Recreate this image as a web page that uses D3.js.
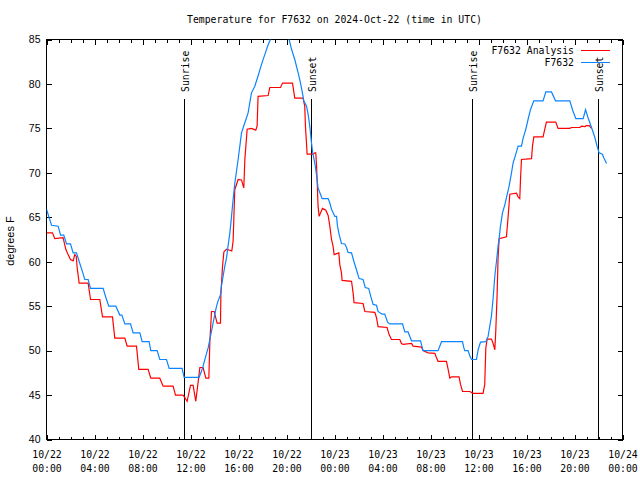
<!DOCTYPE html>
<html>
<head>
<meta charset="utf-8">
<script src="https://cdn.jsdelivr.net/npm/d3@7"></script>
<style>
html,body{margin:0;padding:0;background:#fff;}
svg{display:block;}
</style>
</head>
<body>
<svg id="chart" width="640" height="480"></svg>
<script>
// ---------------- DATA ----------------
const titleText = "Temperature for F7632 on 2024-Oct-22 (time in UTC)";
const yLabel = "degrees F";
const startUTC = Date.UTC(2024, 9, 22, 0, 0);   // 10/22 00:00 UTC
const endUTC = Date.UTC(2024, 9, 24, 0, 0);     // 10/24 00:00 UTC
const yTicks = [40, 45, 50, 55, 60, 65, 70, 75, 80, 85];
const seriesNames = ["F7632 Analysis", "F7632"];
const seriesColors = ["#ff0000", "#0a84ff"];

// F7632 observations: hours since 10/22 00:00 UTC, degrees F
const obsHours = [0.00,0.42,0.97,1.17,1.44,1.67,2.00,2.22,2.50,2.73,2.97,3.19,3.47,3.67,4.72,4.94,5.19,5.78,6.11,6.28,6.53,7.00,7.22,7.78,7.97,8.55,8.69,9.22,9.44,10.00,10.22,11.30,11.47,12.72,12.92,13.05,13.28,13.47,13.61,13.75,13.88,14.03,14.17,14.30,14.50,14.58,14.72,14.86,15.00,15.13,15.28,15.42,15.55,15.69,15.97,16.25,16.52,16.80,17.08,17.36,17.63,17.92,18.19,18.47,18.75,19.03,19.44,19.78,19.94,20.22,20.42,20.69,20.97,21.17,21.38,21.44,21.67,21.80,21.94,22.08,22.17,22.27,22.38,22.50,22.63,22.83,22.97,23.47,23.61,23.75,24.03,24.17,24.25,24.38,24.58,24.86,25.00,25.13,25.42,25.61,25.83,26.05,26.38,26.56,26.85,27.02,27.22,27.50,27.63,27.97,28.19,28.42,28.61,29.67,29.86,30.13,30.42,31.17,31.38,32.63,32.92,34.67,34.78,34.86,35.13,35.28,35.42,35.83,35.97,36.17,36.61,36.80,36.94,37.08,37.22,37.36,37.50,37.63,37.72,37.83,38.00,38.19,38.33,38.55,38.75,38.88,39.11,39.30,39.58,39.72,39.94,40.13,40.33,40.61,41.38,41.61,42.08,42.42,43.61,43.83,44.11,44.72,44.92,45.13,45.42,45.69,45.88,46.05,46.33,46.44,46.67];
const obsTemps = [65.9,64.1,64.0,63.0,63.0,62.0,62.0,61.0,61.0,60.0,59.0,58.0,58.0,57.0,57.0,56.0,55.0,55.0,54.0,54.0,53.0,53.0,52.0,52.0,51.0,51.0,50.0,50.0,49.0,49.0,48.0,48.0,47.0,47.0,47.7,48.25,49.4,50.3,51.25,52.2,53.1,54.1,55.0,55.6,56.3,57.25,58.4,59.5,60.4,61.75,63.25,65.1,67.0,68.8,71.5,74.5,75.6,76.75,79.0,79.75,80.9,82.2,83.3,84.4,85.3,86.3,87.5,87.0,86.3,85.0,83.9,82.75,81.25,80.1,78.6,78.1,77.5,76.6,75.25,73.4,72.4,71.7,70.9,69.8,68.3,67.6,67.1,67.1,66.6,65.9,65.1,65.1,64.0,63.1,62.05,62.0,61.6,61.05,61.0,60.05,59.1,58.1,58.0,57.1,57.0,56.1,55.2,55.1,54.4,54.1,54.1,53.2,53.0,53.0,52.1,52.1,51.1,51.1,50.0,50.0,51.0,51.0,50.3,50.0,50.0,49.4,49.0,49.0,50.1,50.95,51.0,51.6,52.75,53.9,55.9,58.4,60.05,61.75,62.6,64.0,65.5,66.4,67.2,68.5,70.0,71.1,72.1,73.0,73.0,73.9,74.9,76.0,77.1,78.1,78.1,79.1,79.1,78.1,78.1,77.1,76.1,76.1,77.1,76.2,75.1,74.0,73.0,72.25,72.1,71.7,71.05];

// F7632 Analysis: hours since 10/22 00:00 UTC, degrees F
const anaHours = [0.00,0.50,0.69,1.38,1.61,1.80,2.00,2.22,2.36,2.48,2.55,2.72,3.47,3.67,4.44,4.67,5.50,5.69,6.53,6.72,7.50,7.69,8.47,8.69,9.44,9.72,10.55,10.75,11.38,11.53,11.72,12.00,12.22,12.44,12.63,12.78,13.05,13.28,13.53,13.61,13.75,13.97,14.22,14.50,14.53,14.67,14.78,15.00,15.44,15.55,15.61,15.69,15.97,16.25,16.44,16.53,16.72,17.08,17.44,17.55,17.63,18.47,18.61,19.50,19.67,20.50,20.69,21.38,21.52,21.58,21.72,22.22,22.36,22.44,22.50,22.55,22.63,22.72,23.00,23.28,23.47,23.61,23.75,23.88,23.97,24.36,24.44,24.58,24.63,25.42,25.55,25.63,26.38,26.53,27.36,27.50,27.63,28.38,28.55,28.75,29.44,29.58,29.72,30.42,30.55,31.25,31.38,31.80,32.36,32.50,32.63,33.33,33.47,33.61,33.75,34.38,34.50,34.67,35.28,35.55,36.38,36.52,36.61,36.72,37.08,37.22,37.36,37.44,37.55,37.63,37.72,38.33,38.47,38.61,39.17,39.30,39.44,39.50,39.58,40.42,40.50,40.61,41.38,41.52,41.66,42.44,42.63,43.61,43.75,44.44,44.58,44.86,45.00,45.22,45.42];
const anaTemps = [63.25,63.25,62.6,62.7,61.4,60.8,60.25,60.1,60.8,60.6,59.4,57.6,57.6,55.75,55.75,53.8,53.8,51.4,51.4,50.5,50.5,47.9,47.9,46.9,46.9,46.0,46.0,45.0,45.0,44.7,44.3,46.1,46.1,44.3,46.4,48.1,48.1,46.9,46.9,50.9,54.4,54.4,53.1,53.1,56.3,59.5,61.1,61.4,61.2,62.3,64.75,68.1,69.25,69.2,68.3,71.5,74.9,75.0,74.8,75.25,78.6,78.7,79.6,79.6,80.1,80.1,78.4,78.4,77.5,75.25,72.1,72.1,72.25,72.25,70.9,69.25,66.25,65.1,66.0,65.8,65.2,64.0,62.5,61.75,60.8,61.0,59.7,58.75,57.9,57.8,56.5,55.4,55.3,54.4,54.3,53.7,52.7,52.6,51.8,51.25,51.25,50.8,50.7,50.8,50.5,50.4,50.0,49.75,49.7,49.2,48.8,48.8,47.9,46.9,47.05,47.05,46.2,45.4,45.4,45.2,45.2,46.2,50.3,51.3,51.3,50.8,50.1,52.2,56.3,60.4,62.6,62.8,65.1,67.6,67.7,67.3,67.1,69.25,71.5,71.6,73.0,74.05,74.05,74.9,75.7,75.7,75.0,75.0,75.1,75.1,75.25,75.2,75.3,75.3,75.0];

// Sunrise / sunset marks: hours since 10/22 00:00 UTC
const eventHours = [11.47, 22.08, 35.42, 45.97];
const eventLabels = ["Sunrise", "Sunset", "Sunrise", "Sunset"];

// ---------------- CHART ----------------
(function () {
const svg = d3.select("#chart");
const W = 640, H = 480;
const pLeft = 46.5, pRight = 622.5, pTop = 39.5, pBottom = 439.5;
const monoFont = "'DejaVu Sans Mono', 'Liberation Mono', monospace";
const sansFont = "'Liberation Sans', Arial, sans-serif";

const toDate = h => new Date(startUTC + h * 3600e3);
const x = d3.scaleUtc().domain([new Date(startUTC), new Date(endUTC)]).range([pLeft, pRight]);
const y = d3.scaleLinear().domain([40, 85]).range([pBottom, pTop]);

svg.append("rect").attr("width", W).attr("height", H).attr("fill", "#fff");

svg.append("defs").append("clipPath").attr("id", "plotclip")
  .append("rect").attr("x", pLeft).attr("y", pTop).attr("width", pRight - pLeft).attr("height", pBottom - pTop);

// title
svg.append("text").attr("x", (pLeft + pRight) / 2).attr("y", 23)
  .attr("text-anchor", "middle").attr("font-family", monoFont).attr("font-size", 9.8)
  .attr("fill", "#000").text(titleText);

// y label
svg.append("text").attr("transform", "translate(14,241) rotate(-90)")
  .attr("text-anchor", "middle").attr("font-family", sansFont).attr("font-size", 11)
  .attr("fill", "#000").text(yLabel);

function styleAxis(g) {
  g.select(".domain").remove();
  g.selectAll("line").attr("stroke", "#000").attr("shape-rendering", "crispEdges");
}

// x axes (bottom + mirrored top), major 4h, minor 1h
styleAxis(svg.append("g").attr("transform", `translate(0,${pBottom})`)
  .call(d3.axisBottom(x).ticks(d3.utcHour.every(1)).tickSize(-3).tickFormat("")));
styleAxis(svg.append("g").attr("transform", `translate(0,${pTop})`)
  .call(d3.axisTop(x).ticks(d3.utcHour.every(1)).tickSize(-3).tickFormat("")));
styleAxis(svg.append("g").attr("transform", `translate(0,${pTop})`)
  .call(d3.axisTop(x).ticks(d3.utcHour.every(4)).tickSize(-5).tickFormat("")));

const fmtDate = d3.utcFormat("%m/%d");
const fmtTime = d3.utcFormat("%H:%M");
const xMajorB = svg.append("g").attr("transform", `translate(0,${pBottom})`)
  .call(d3.axisBottom(x).ticks(d3.utcHour.every(4)).tickSize(-5).tickFormat(""));
styleAxis(xMajorB);
xMajorB.selectAll(".tick text").remove();
xMajorB.selectAll(".tick").each(function (d) {
  const t = d3.select(this).append("text")
    .attr("text-anchor", "middle").attr("font-family", monoFont).attr("font-size", 9.8).attr("fill", "#000");
  t.append("tspan").attr("x", 0).attr("y", 18).text(fmtDate(d));
  t.append("tspan").attr("x", 0).attr("y", 32).text(fmtTime(d));
});

// y axes (left with labels + mirrored right)
const yL = svg.append("g").attr("transform", `translate(${pLeft},0)`)
  .call(d3.axisLeft(y).tickValues(yTicks).tickSize(-5).tickPadding(6).tickFormat(d3.format("d")));
styleAxis(yL);
yL.selectAll("text").attr("font-family", sansFont).attr("font-size", 10.5).attr("fill", "#000");
styleAxis(svg.append("g").attr("transform", `translate(${pRight},0)`)
  .call(d3.axisRight(y).tickValues(yTicks).tickSize(-5).tickFormat("")));

// border
svg.append("rect").attr("x", pLeft).attr("y", pTop).attr("width", pRight - pLeft).attr("height", pBottom - pTop)
  .attr("fill", "none").attr("stroke", "#000").attr("shape-rendering", "crispEdges");

// sunrise / sunset lines
const ev = svg.append("g");
eventHours.forEach((h, i) => {
  const xp = Math.round(x(toDate(h))) + 0.5;
  ev.append("line").attr("x1", xp).attr("x2", xp).attr("y1", 99).attr("y2", pBottom)
    .attr("stroke", "#000").attr("stroke-width", 1).attr("shape-rendering", "crispEdges");
  ev.append("text").attr("transform", `translate(${xp + 4.5},92) rotate(-90)`)
    .attr("text-anchor", "start").attr("font-family", monoFont).attr("font-size", 9.8)
    .attr("fill", "#000").text(eventLabels[i]);
});

// data lines
const line = d3.line().x(d => x(toDate(d[0]))).y(d => y(d[1]));
const anaData = anaHours.map((h, i) => [h, anaTemps[i]]);
const obsData = obsHours.map((h, i) => [h, obsTemps[i]]);
const plot = svg.append("g").attr("clip-path", "url(#plotclip)");
plot.append("path").datum(anaData).attr("d", line)
  .attr("fill", "none").attr("stroke", seriesColors[0]).attr("stroke-width", 1.2);
plot.append("path").datum(obsData).attr("d", line)
  .attr("fill", "none").attr("stroke", seriesColors[1]).attr("stroke-width", 1.2);

// legend
const legY = [50, 62];
seriesNames.forEach((name, i) => {
  svg.append("text").attr("x", 574).attr("y", legY[i] + 3.5)
    .attr("text-anchor", "end").attr("font-family", monoFont).attr("font-size", 9.8)
    .attr("fill", "#000").text(name);
  svg.append("line").attr("x1", 581).attr("x2", 610).attr("y1", legY[i] + 0.5).attr("y2", legY[i] + 0.5)
    .attr("stroke", seriesColors[i]).attr("stroke-width", 1).attr("shape-rendering", "crispEdges");
});
})();
</script>
</body>
</html>
